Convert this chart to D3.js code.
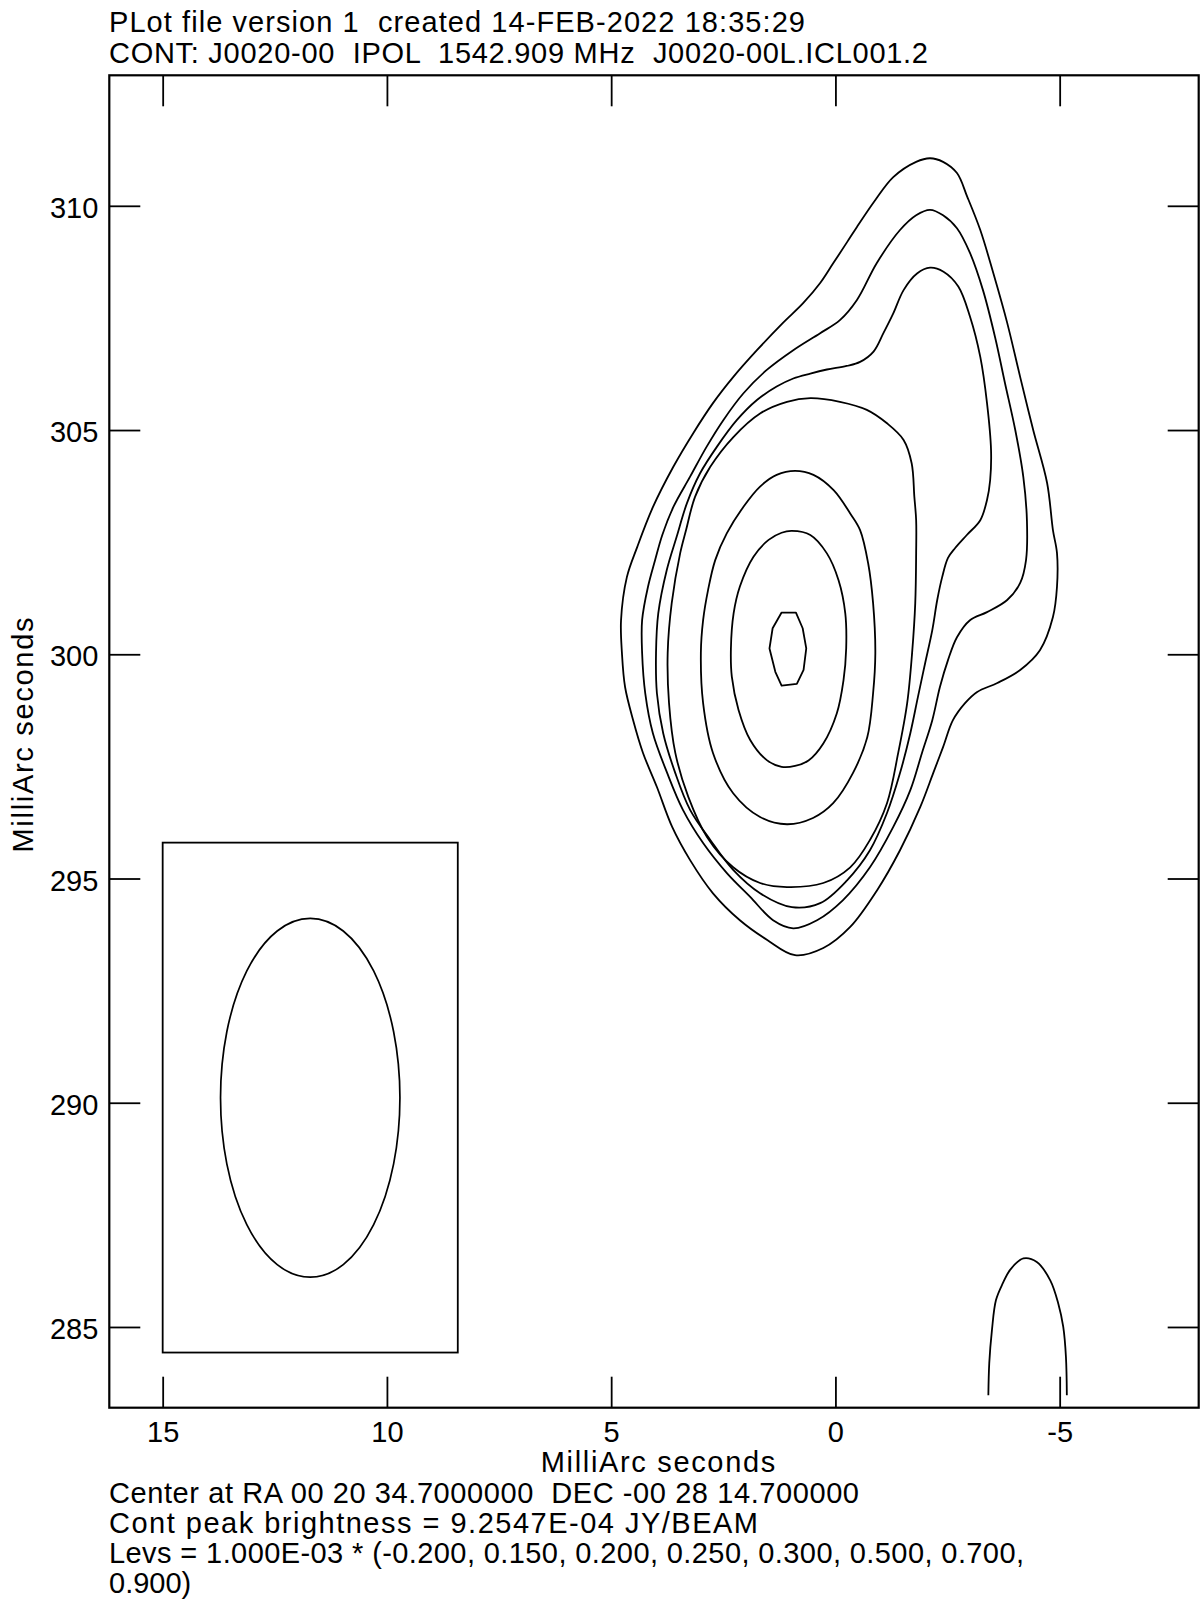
<!DOCTYPE html>
<html><head><meta charset="utf-8">
<script src="https://cdn.jsdelivr.net/npm/d3@7"></script>
<style>
html,body{margin:0;padding:0;background:#fff;}
text{font-family:"Liberation Sans",Arial,Helvetica,sans-serif;fill:#000;white-space:pre;}
</style></head>
<body><svg id="chart" width="1200" height="1606"></svg>
<script>
// ---- data (MilliArc seconds) ----
const titleLines = ["PLot file version 1  created 14-FEB-2022 18:35:29",
                    "CONT: J0020-00  IPOL  1542.909 MHz  J0020-00L.ICL001.2"];
const xTicks = [15, 10, 5, 0, -5];
const yTicks = [285, 290, 295, 300, 305, 310];
const xDomain = [16.19, -8.10];
const yDomain = [283.2, 312.91];
const axisTitle = "MilliArc seconds";
const levelScale = "1.000E-03";
const levels = [-0.2, 0.15, 0.2, 0.25, 0.3, 0.5, 0.7, 0.9];
const peak = "9.2547E-04";
const center = "Center at RA 00 20 34.7000000  DEC -00 28 14.700000";

// beam: center, full minor/major axes (mas), box corners
const beamCenter = [11.71, 290.11];
const beamAxes = [4.0, 8.0];
const beamBox = [[15.0, 284.43], [8.42, 295.80]];

// contour traces [x, y]
const c015 = [[-2.11,311.06],[-1.80,310.98],[-1.29,310.64],[-0.89,310.13],[-0.48,309.53],[-0.26,309.19],[0.05,308.72],[0.34,308.28],[0.72,307.83],[1.17,307.39],[1.75,306.78],[2.28,306.18],[2.73,305.60],[3.17,304.93],[3.62,304.17],[4.07,303.28],[4.42,302.39],[4.65,301.72],[4.78,300.76],[4.76,300.03],[4.69,299.27],[4.51,298.53],[4.29,297.80],[3.98,297.04],[3.64,296.15],[3.24,295.41],[2.73,294.67],[2.13,294.07],[1.52,293.63],[0.90,293.29],[0.27,293.45],[-0.33,293.92],[-0.93,294.74],[-1.44,295.63],[-1.89,296.59],[-2.18,297.35],[-2.40,297.93],[-2.62,298.53],[-2.89,298.91],[-3.16,299.16],[-3.61,299.36],[-4.12,299.65],[-4.56,300.09],[-4.85,300.83],[-4.94,301.50],[-4.94,302.26],[-4.85,302.77],[-4.72,303.82],[-4.41,305.00],[-4.12,306.18],[-3.83,307.39],[-3.52,308.50],[-3.23,309.46],[-2.94,310.20],[-2.71,310.73],[-2.40,310.98]];
const c020 = [[-2.11,309.91],[-1.80,309.79],[-1.44,309.46],[-0.92,308.72],[-0.48,307.90],[-0.10,307.45],[0.34,307.16],[0.94,306.78],[1.53,306.34],[2.05,305.82],[2.50,305.22],[2.87,304.63],[3.24,303.96],[3.61,303.29],[3.86,302.66],[4.02,302.10],[4.18,301.50],[4.31,300.76],[4.31,300.03],[4.24,299.13],[4.07,298.24],[3.75,297.35],[3.40,296.53],[2.95,295.79],[2.42,295.12],[1.90,294.59],[1.39,294.07],[0.94,293.89],[0.41,294.07],[-0.17,294.52],[-0.77,295.25],[-1.29,296.15],[-1.67,296.97],[-1.93,297.80],[-2.16,298.53],[-2.33,299.27],[-2.51,299.87],[-2.71,300.38],[-3.00,300.76],[-3.38,300.94],[-3.83,301.21],[-4.12,301.59],[-4.25,302.10],[-4.27,302.99],[-4.19,303.95],[-4.01,305.00],[-3.78,306.05],[-3.56,307.07],[-3.29,308.12],[-3.00,308.95],[-2.71,309.50],[-2.40,309.79]];
const c025 = [[-2.11,308.62],[-1.82,308.49],[-1.52,308.12],[-1.29,307.60],[-1.07,307.16],[-0.85,306.75],[-0.55,306.52],[-0.25,306.43],[0.19,306.35],[0.56,306.26],[0.94,306.15],[1.31,305.97],[1.75,305.67],[2.20,305.22],[2.64,304.63],[3.02,304.03],[3.31,303.37],[3.54,302.62],[3.76,301.88],[3.95,300.91],[4.00,300.03],[3.98,299.13],[3.84,298.24],[3.57,297.35],[3.24,296.53],[2.79,295.86],[2.28,295.19],[1.68,294.67],[0.97,294.36],[0.34,294.45],[-0.26,294.96],[-0.77,295.63],[-1.15,296.46],[-1.44,297.35],[-1.67,298.24],[-1.84,299.05],[-2.00,299.80],[-2.16,300.54],[-2.27,301.21],[-2.38,301.72],[-2.51,302.15],[-2.67,302.37],[-2.93,302.66],[-3.23,302.99],[-3.38,303.44],[-3.45,303.88],[-3.47,304.55],[-3.38,305.60],[-3.23,306.63],[-3.00,307.53],[-2.74,308.20],[-2.41,308.53]];
const c030 = [[0.56,305.71],[1.08,305.63],[1.68,305.37],[2.27,304.85],[2.79,304.18],[3.13,303.51],[3.33,302.77],[3.46,302.26],[3.65,301.14],[3.74,300.03],[3.71,298.91],[3.57,297.80],[3.28,296.82],[2.86,295.92],[2.28,295.25],[1.68,294.90],[1.08,294.81],[0.27,294.90],[-0.33,295.25],[-0.77,295.86],[-1.15,296.68],[-1.40,297.80],[-1.60,298.91],[-1.71,300.03],[-1.78,301.14],[-1.80,302.26],[-1.80,302.99],[-1.76,303.51],[-1.70,304.26],[-1.52,304.78],[-1.15,305.15],[-0.70,305.45],[-0.10,305.63]];
const c050 = [[0.90,304.09],[1.31,304.00],[1.68,303.74],[2.05,303.29],[2.42,302.70],[2.68,302.10],[2.84,301.43],[2.95,300.76],[3.00,300.03],[2.95,298.91],[2.73,297.80],[2.28,296.90],[1.68,296.37],[1.08,296.21],[0.50,296.35],[0.05,296.68],[-0.39,297.35],[-0.71,298.15],[-0.84,299.13],[-0.89,300.03],[-0.84,301.14],[-0.73,302.03],[-0.55,302.77],[-0.33,303.14],[0.04,303.66],[0.49,304.00]];
const c070 = [[0.97,302.75],[0.56,302.66],[0.19,302.25],[-0.07,301.65],[-0.22,300.91],[-0.24,300.13],[-0.18,299.42],[-0.03,298.68],[0.27,298.01],[0.60,297.63],[0.90,297.51],[1.20,297.49],[1.53,297.64],[1.90,298.09],[2.16,298.76],[2.31,299.50],[2.33,300.13],[2.27,300.91],[2.13,301.51],[1.83,302.17],[1.49,302.55],[1.20,302.71]];
const c090 = [[1.20,300.93],[0.88,300.93],[0.73,300.58],[0.65,300.13],[0.71,299.65],[0.86,299.34],[1.20,299.30],[1.34,299.61],[1.47,300.13],[1.40,300.58]];
const cNeg = [[-3.41,283.48],[-3.43,284.19],[-3.49,284.93],[-3.58,285.60],[-3.73,285.97],[-3.90,286.28],[-4.19,286.53],[-4.49,286.45],[-4.79,286.04],[-4.97,285.52],[-5.08,285.00],[-5.14,284.33],[-5.16,283.48]];

const contours = [
  {level: -0.2, pts: cNeg, closed: false, smooth: true},
  {level: 0.15, pts: c015, closed: true, smooth: true},
  {level: 0.2, pts: c020, closed: true, smooth: true},
  {level: 0.25, pts: c025, closed: true, smooth: true},
  {level: 0.3, pts: c030, closed: true, smooth: true},
  {level: 0.5, pts: c050, closed: true, smooth: true},
  {level: 0.7, pts: c070, closed: true, smooth: true},
  {level: 0.9, pts: c090, closed: true, smooth: false}
];

// ---- layout ----
const frame = {left: 109.3, right: 1198.7, top: 75.3, bottom: 1407.7};
const FS = 29;
const titleWidths = [696, 819];
const footWidths = [750, 649, 915, null];
const svg = d3.select("#chart");

const x = d3.scaleLinear().domain(xDomain).range([frame.left, frame.right]);
const y = d3.scaleLinear().domain(yDomain).range([frame.bottom, frame.top]);

// titles
svg.selectAll("text.title").data(titleLines).join("text")
  .attr("class", "title").attr("x", 109).attr("y", (d, i) => 32 + i * 30.5)
  .attr("textLength", (d, i) => titleWidths[i])
  .style("font-size", FS + "px").text(d => d);

const tickLen = 31;
const fmt = d => String(d);
const gx = svg.append("g").attr("transform", `translate(0,${frame.bottom})`)
  .call(d3.axisBottom(x).tickValues(xTicks).tickSize(-tickLen).tickSizeOuter(0).tickPadding(14).tickFormat(fmt));
const gxt = svg.append("g").attr("transform", `translate(0,${frame.top})`)
  .call(d3.axisTop(x).tickValues(xTicks).tickSize(-tickLen).tickSizeOuter(0).tickFormat(""));
const gy = svg.append("g").attr("transform", `translate(${frame.left},0)`)
  .call(d3.axisLeft(y).tickValues(yTicks).tickSize(-tickLen).tickSizeOuter(0).tickPadding(11).tickFormat(fmt));
const gyr = svg.append("g").attr("transform", `translate(${frame.right},0)`)
  .call(d3.axisRight(y).tickValues(yTicks).tickSize(-tickLen).tickSizeOuter(0).tickFormat(""));
[gx, gxt, gy, gyr].forEach(g => {
  g.select(".domain").remove();
  g.selectAll(".tick line").attr("stroke", "#000").attr("stroke-width", 1.8);
  g.selectAll(".tick text").style("font-size", FS + "px").attr("fill", "#000")
    .style("font-family", '"Liberation Sans",Arial,sans-serif');
});
gy.selectAll(".tick text").attr("dy", "0.4em");

// frame
svg.append("rect").attr("x", frame.left).attr("y", frame.top)
  .attr("width", frame.right - frame.left).attr("height", frame.bottom - frame.top)
  .attr("fill", "none").attr("stroke", "#000").attr("stroke-width", 2.2);

// axis titles
svg.append("text").attr("x", 658).attr("y", 1472)
  .attr("text-anchor", "middle").attr("textLength", 234.5)
  .style("font-size", FS + "px").text(axisTitle);
svg.append("text").attr("transform", "translate(33,735) rotate(-90)")
  .attr("text-anchor", "middle").attr("textLength", 235)
  .style("font-size", FS + "px").text(axisTitle);

// footer
const levLine = "Levs = " + levelScale + " * (" + levels.map(d => d.toFixed(3)).join(", ") + ")";
const cut = levLine.indexOf("0.900");
const footer = [center, "Cont peak brightness = " + peak + " JY/BEAM", levLine.slice(0, cut).trimEnd(), levLine.slice(cut)];
svg.selectAll("text.foot").data(footer).join("text")
  .attr("class", "foot").attr("x", 109).attr("y", (d, i) => 1502.5 + i * 30)
  .each(function(d, i) { if (footWidths[i]) d3.select(this).attr("textLength", footWidths[i]); })
  .style("font-size", FS + "px").text(d => d);

// beam box and beam
svg.append("rect")
  .attr("x", x(beamBox[0][0])).attr("y", y(beamBox[1][1]))
  .attr("width", x(beamBox[1][0]) - x(beamBox[0][0])).attr("height", y(beamBox[0][1]) - y(beamBox[1][1]))
  .attr("fill", "none").attr("stroke", "#000").attr("stroke-width", 1.8);
svg.append("ellipse")
  .attr("cx", x(beamCenter[0])).attr("cy", y(beamCenter[1]))
  .attr("rx", Math.abs(x(beamAxes[0] / 2) - x(0))).attr("ry", Math.abs(y(beamAxes[1] / 2) - y(0)))
  .attr("fill", "none").attr("stroke", "#000").attr("stroke-width", 1.7);

// contours
const g = svg.append("g").attr("fill", "none").attr("stroke", "#000").attr("stroke-width", 1.8).attr("stroke-linejoin", "round");
contours.forEach(c => {
  const curve = c.closed ? (c.smooth ? d3.curveCatmullRomClosed.alpha(0.5) : d3.curveLinearClosed)
                         : d3.curveCatmullRom.alpha(0.5);
  const line = d3.line().x(d => x(d[0])).y(d => y(d[1])).curve(curve);
  g.append("path").attr("d", line(c.pts)).attr("data-level", c.level);
});
</script></body></html>
